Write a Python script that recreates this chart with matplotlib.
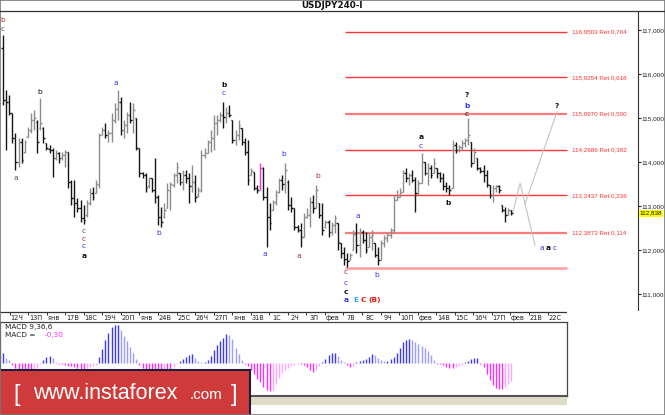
import numpy as np
import matplotlib
matplotlib.use("Agg")
import matplotlib.pyplot as plt
from matplotlib.patches import Rectangle

W, H = 665, 415

# 4H bars, USDJPY
highs = [116.89, 115.64, 115.52, 115.11, 114.66, 114.55, 114.55, 114.50, 114.80, 115.11,
         115.18, 114.95, 115.45, 114.80, 114.43, 114.39, 114.32, 114.27, 114.23, 114.23,
         114.27, 114.23, 113.59, 113.59, 113.18, 113.14, 113.02, 113.14, 113.41, 113.43,
         113.59, 114.66, 114.80, 114.89, 114.73, 115.11, 115.34, 115.64, 115.48, 114.95,
         115.14, 115.36, 115.34, 115.00, 114.32, 113.77, 113.75, 113.66, 113.64, 114.09,
         113.25, 112.98, 113.07, 113.52, 113.55, 113.75, 114.00, 113.75, 113.82, 113.82,
         113.75, 113.93, 113.70, 113.43, 114.27, 114.32, 114.50, 114.73, 115.07, 115.07,
         115.14, 115.36, 115.25, 115.30, 114.95, 114.73, 114.95, 114.77, 114.55, 114.50,
         113.86, 113.77, 113.48, 113.98, 113.89, 113.43, 113.07, 113.14, 113.36, 113.64,
         113.70, 113.98, 113.59, 113.20, 112.95, 112.57, 112.61, 112.84, 112.95, 113.20,
         113.25, 113.48, 113.07, 113.07, 112.68, 112.68, 112.64, 112.80, 112.61, 112.16,
         112.07, 111.93, 111.93, 112.45, 112.61, 112.50, 112.45, 112.41, 112.39, 112.45,
         112.16, 112.07, 112.23, 112.34, 112.41, 112.50, 113.25, 113.36, 113.41, 113.82,
         113.86, 113.75, 113.82, 113.66, 113.59, 114.20, 114.00, 113.98, 113.93, 114.09,
         113.86, 113.77, 113.75, 113.55, 113.48, 114.50, 114.45, 114.39, 114.50, 114.55,
         115.00, 114.45, 114.32, 114.09, 113.89, 113.93, 113.82, 113.48, 113.48, 113.48,
         113.48, 113.02, 112.98, 112.95, 112.91]
lows = [115.30, 114.27, 115.07, 114.43, 113.82, 113.89, 113.98, 114.20, 114.57, 114.66,
        114.73, 114.20, 114.73, 114.43, 114.27, 114.20, 113.66, 114.05, 113.98, 114.05,
        113.89, 113.41, 113.02, 112.75, 112.86, 112.64, 112.59, 112.75, 113.02, 113.14,
        113.30, 113.41, 114.61, 114.55, 114.45, 114.45, 114.89, 114.95, 114.61, 114.55,
        114.66, 114.89, 114.66, 114.27, 113.66, 113.64, 113.32, 113.41, 113.32, 113.07,
        112.57, 112.52, 112.73, 112.95, 112.91, 113.43, 113.52, 113.48, 113.36, 113.52,
        113.07, 113.32, 113.09, 113.20, 113.32, 114.09, 114.20, 114.23, 114.27, 114.61,
        114.91, 114.77, 114.89, 115.02, 114.43, 114.39, 114.50, 114.39, 114.16, 113.48,
        113.70, 113.36, 113.30, 113.36, 113.14, 112.07, 112.45, 112.91, 113.02, 113.30,
        113.36, 113.30, 112.91, 112.86, 112.45, 112.41, 112.07, 112.30, 112.73, 112.52,
        112.84, 112.95, 112.73, 112.34, 112.50, 112.30, 112.34, 112.39, 112.00, 111.82,
        111.66, 111.61, 111.77, 112.00, 111.93, 111.84, 112.16, 111.93, 112.07, 112.00,
        111.84, 111.66, 111.77, 112.07, 112.18, 112.27, 112.39, 113.14, 113.20, 113.32,
        113.55, 113.48, 113.55, 112.86, 113.25, 113.52, 113.70, 113.48, 113.64, 113.75,
        113.64, 113.55, 113.36, 113.32, 113.25, 113.41, 114.20, 114.23, 114.27, 114.34,
        114.39, 113.89, 113.98, 113.82, 113.75, 113.55, 113.43, 113.18, 113.09, 113.32,
        113.30, 112.86, 112.64, 112.80, 112.80]
opens = [116.60, 115.41, 115.36, 115.11, 114.55, 114.00, 114.45, 114.23, 114.57, 114.73,
         114.95, 114.91, 114.77, 114.77, 114.43, 114.30, 114.27, 114.09, 114.20, 114.09,
         114.16, 114.23, 113.55, 113.18, 113.07, 112.95, 112.73, 112.80, 113.07, 113.30,
         113.30, 113.48, 114.61, 114.73, 114.61, 114.66, 114.95, 115.20, 115.36, 114.73,
         114.84, 115.07, 114.95, 115.00, 114.32, 113.75, 113.70, 113.45, 113.64, 113.36,
         113.20, 112.75, 112.75, 112.95, 113.36, 113.48, 113.70, 113.75, 113.55, 113.70,
         113.64, 113.45, 113.55, 113.25, 113.36, 114.16, 114.20, 114.45, 114.55, 114.89,
         114.95, 115.07, 115.02, 115.11, 114.95, 114.50, 114.61, 114.77, 114.45, 114.23,
         113.70, 113.77, 113.41, 113.45, 113.86, 113.20, 112.75, 112.91, 113.09, 113.32,
         113.59, 113.50, 113.55, 113.02, 112.95, 112.52, 112.45, 112.30, 112.75, 112.80,
         113.09, 112.95, 113.07, 112.80, 112.52, 112.64, 112.41, 112.57, 112.61, 112.16,
         111.93, 111.80, 111.77, 112.00, 112.36, 112.11, 112.41, 112.23, 112.07, 112.30,
         112.16, 111.89, 111.77, 112.16, 112.27, 112.34, 112.45, 113.14, 113.20, 113.32,
         113.75, 113.64, 113.70, 113.59, 113.30, 113.52, 114.00, 113.75, 113.86, 113.75,
         113.86, 113.75, 113.64, 113.45, 113.41, 113.41, 114.39, 114.27, 114.34, 114.43,
         114.50, 114.45, 113.98, 114.09, 113.86, 113.80, 113.70, 113.48, 113.25, 113.41,
         113.45, 113.02, 112.91, 112.80, 112.91]
closes = [115.41, 115.36, 115.11, 114.55, 114.00, 114.45, 114.05, 114.45, 114.73, 114.95,
          115.00, 114.45, 114.89, 114.55, 114.32, 114.27, 114.09, 114.20, 114.09, 114.16,
          114.23, 113.55, 113.18, 113.07, 112.95, 112.73, 112.68, 113.07, 113.30, 113.20,
          113.50, 114.61, 114.73, 114.61, 114.66, 114.95, 115.20, 115.36, 114.73, 114.84,
          115.07, 114.95, 115.18, 114.32, 113.75, 113.70, 113.41, 113.64, 113.36, 113.20,
          112.75, 112.64, 112.91, 113.36, 113.50, 113.70, 113.89, 113.55, 113.70, 113.64,
          113.45, 113.55, 113.20, 113.36, 114.16, 114.20, 114.45, 114.55, 114.89, 114.95,
          115.07, 115.02, 115.11, 115.07, 114.50, 114.61, 114.84, 114.45, 114.23, 113.59,
          113.80, 113.41, 113.36, 113.86, 113.20, 112.75, 112.61, 113.09, 113.25, 113.59,
          113.50, 113.82, 113.02, 112.95, 112.52, 112.45, 112.30, 112.75, 112.80, 113.09,
          112.95, 113.36, 112.80, 112.45, 112.64, 112.41, 112.57, 112.73, 112.18, 111.93,
          111.80, 111.75, 111.89, 112.36, 112.11, 112.41, 112.23, 112.00, 112.30, 112.34,
          111.89, 111.77, 112.16, 112.27, 112.34, 112.45, 113.14, 113.20, 113.30, 113.75,
          113.64, 113.70, 113.59, 113.30, 113.52, 114.00, 113.75, 113.86, 113.70, 113.98,
          113.75, 113.64, 113.45, 113.41, 113.36, 114.39, 114.27, 114.34, 114.43, 114.50,
          114.61, 113.98, 114.23, 113.86, 113.80, 113.70, 113.50, 113.25, 113.41, 113.45,
          113.36, 112.91, 112.80, 112.91, 112.84]

# MACD(9,36,6) histogram
macd = [0.17, 0.08, 0.05, -0.03, -0.08, -0.10, -0.12, -0.12, -0.12, -0.12,
        -0.10, -0.08, -0.02, 0.05, 0.10, 0.12, 0.08, 0.02, -0.02, -0.02,
        -0.03, -0.05, -0.05, -0.07, -0.08, -0.10, -0.10, -0.08, -0.07, -0.05,
        -0.03, 0.10, 0.23, 0.38, 0.50, 0.60, 0.63, 0.63, 0.55, 0.45,
        0.37, 0.27, 0.17, 0.07, -0.03, -0.08, -0.10, -0.12, -0.12, -0.12,
        -0.12, -0.12, -0.10, -0.10, -0.10, -0.07, -0.02, 0.03, 0.07, 0.10,
        0.13, 0.15, 0.08, 0.03, 0.02, 0.02, 0.05, 0.12, 0.22, 0.30,
        0.37, 0.42, 0.48, 0.47, 0.40, 0.25, 0.15, 0.05, -0.02, -0.05,
        -0.12, -0.18, -0.27, -0.32, -0.40, -0.45, -0.47, -0.45, -0.35, -0.25,
        -0.17, -0.12, -0.08, -0.05, -0.03, -0.02, -0.02, -0.03, -0.07, -0.12,
        -0.15, -0.12, -0.05, 0.02, 0.07, 0.13, 0.17, 0.17, 0.12, 0.05,
        0.02, -0.03, -0.07, -0.05, 0.02, 0.03, 0.05, 0.07, 0.10, 0.15,
        0.13, 0.08, 0.05, 0.03, 0.03, 0.07, 0.10, 0.17, 0.25, 0.35,
        0.38, 0.40, 0.38, 0.35, 0.32, 0.28, 0.25, 0.20, 0.13, 0.05,
        -0.02, -0.02, -0.03, -0.07, -0.08, -0.08, -0.07, -0.05, -0.03, 0.02,
        0.03, 0.07, 0.08, 0.08, -0.02, -0.07, -0.18, -0.28, -0.37, -0.42,
        -0.43, -0.43, -0.40, -0.35, -0.30]

days = ["12Ч", "13П", "янв", "17В", "18С", "19Ч", "20П", "янв", "24В", "25С",
        "26Ч", "27П", "янв", "31В", "1С", "2Ч", "3П", "фев", "7В", "8С",
        "9Ч", "10П", "фев", "14В", "15С", "16Ч", "17П", "фев", "21В", "22С"]

fib_levels = [116.9503, 115.9254, 115.0970, 114.2686, 113.2437, 112.3873]
fib_ratios = ["0,764", "0,618", "0,500", "0,382", "0,236", "0,114"]
base_level = 111.60
last_price = 112.838

# forecast paths (bar index, price)
path_main_x = [164.5, 166.8, 171.6]
path_main_y = [112.86, 113.52, 112.11]
path_alt_x = [168.4, 178.7]
path_alt_y = [113.05, 115.14]

BLUE = "#3333ff"
BROWN = "#b03030"
GREY = "#555555"
BLACK = "#111111"
# wave labels: text, bar index, price, colour, bold
waves = [
    ("b", 0.0, 117.22, BROWN, False), ("c", 0.0, 117.03, GREY, False),
    ("a", 4.2, 113.64, GREY, False), ("b", 11.9, 115.59, BLACK, False),
    ("c", 26.1, 112.44, GREY, False), ("c", 26.1, 112.26, BROWN, False),
    ("c", 26.1, 112.08, BLUE, False), ("a", 26.1, 111.86, BLACK, True),
    ("a", 36.5, 115.80, BLUE, False), ("b", 50.3, 112.39, BLUE, False),
    ("b", 71.3, 115.75, BLACK, True), ("c", 71.3, 115.57, BLUE, False),
    ("b", 90.6, 114.18, BLUE, False), ("a", 84.5, 111.91, BLUE, False),
    ("b", 101.6, 113.68, BROWN, False), ("a", 95.5, 111.86, BROWN, False),
    ("a", 114.5, 112.77, BLUE, False),
    ("c", 110.6, 111.50, BROWN, False), ("c", 110.6, 111.25, BLUE, False),
    ("c", 110.6, 111.05, BLACK, True), ("a", 110.6, 110.86, BLUE, True),
    ("E", 113.9, 110.86, "#2f9cff", True), ("C", 116.1, 110.86, "#e02020", True),
    ("(B)", 120.0, 110.86, "#e02020", True),
    ("b", 120.6, 111.43, BLUE, False), ("b", 143.5, 113.07, BLACK, True),
    ("a", 134.8, 114.57, BLACK, True), ("c", 134.8, 114.36, BLUE, False),
    ("?", 149.7, 115.52, BLACK, True), ("b", 149.7, 115.27, BLUE, True),
    ("c", 149.7, 115.09, BLACK, False), ("?", 178.7, 115.27, BLACK, True),
    ("a", 173.9, 112.05, BLUE, False), ("a", 175.8, 112.05, BLACK, True),
    ("c", 178.1, 112.05, BLUE, False),
]

fig = plt.figure(figsize=(W / 100, H / 100), dpi=100)
fig.patch.set_facecolor("white")


def px_axes(x0, y0, x1, y1):
    return fig.add_axes([x0 / W, 1 - y1 / H, (x1 - x0) / W, (y1 - y0) / H])


def bar_x(px):
    return (px - 3) / 3.1


def price_y(py):
    return 117.682 - py / 44


# ---- price panel
ax = px_axes(0, 12, 638, 310)
ax.set_xlim(bar_x(0), bar_x(638))
ax.set_ylim(price_y(310), price_y(12))
for s in ["top", "left", "bottom"]:
    ax.spines[s].set_visible(False)
ax.spines["right"].set_color("#333333")
ax.set_xticks([])
ax.yaxis.tick_right()
ax.set_yticks(range(111, 118))
ax.set_yticklabels([f"{v},000" for v in range(111, 118)],
                   family="Liberation Sans")
ax.tick_params(axis="y", direction="out", length=2, width=0.8, pad=0.5,
               labelsize=4.6, colors="#222222")

for lv, r in zip(fib_levels, fib_ratios):
    soft = r in ("0,500", "0,114")
    ax.hlines(lv, bar_x(345), bar_x(567), colors="#ff7a7a" if soft else "#ff3535",
              lw=1.6 if soft else 1.0, zorder=1)
    ax.text(bar_x(572), lv, f"{lv:.4f}".replace(".", ",") + " Ret " + r,
            color="#ff3030", fontsize=4.5, va="center", ha="left",
            family="Liberation Sans")
ax.hlines(base_level, bar_x(345), bar_x(567), colors="#ff9c9c", lw=1.8, zorder=1)

x = np.arange(len(highs))
o = np.array(opens)
c = np.array(closes)
cols = np.where(c >= o, "#8c8c8c", "#151515").astype(object)
cols[83] = "#ff33cc"
ax.vlines(x, lows, highs, colors=list(cols), lw=1.0, zorder=3)
ax.hlines(o, x - 0.5, x, colors=list(cols), lw=1.0, zorder=3)
ax.hlines(c, x, x + 0.5, colors=list(cols), lw=1.0, zorder=3)

ax.plot(path_main_x, path_main_y, color="#c4c4c4", lw=0.8, zorder=2)
ax.plot(path_alt_x, path_alt_y, color="#c4c4c4", lw=0.8, zorder=2)

for t, xi, yi, col, bold in waves:
    ax.text(xi, yi, t, color=col, fontsize=5.4, ha="center", va="center",
            fontweight="bold" if bold else "normal", zorder=4)

ax.annotate(f"{last_price:.3f}".replace(".", ","), xy=(1.0, last_price),
            xycoords=("axes fraction", "data"), xytext=(1.2, 0),
            textcoords="offset points", va="center", ha="left", fontsize=4.6,
            color="#111111", family="Liberation Sans",
            bbox=dict(boxstyle="square,pad=0.15", fc="#ffff00", ec="none"))

# ---- date strip
axd = px_axes(0, 310, 567, 322)
axd.set_xlim(-17 / 18.55, (567 - 17) / 18.55)
axd.set_ylim(0, 1)
axd.axis("off")
axd.axhline(0.85, color="#333333", lw=0.9)
for k, d in enumerate(days):
    axd.vlines(k - 0.4, 0.62, 0.85, color="#333333", lw=0.7)
    axd.text(k, 0.32, d, fontsize=4.8, ha="center", va="center", color="#222222")

# ---- MACD panel
axm = px_axes(0, 322, 567, 396)
axm.set_xlim(bar_x(0), bar_x(567))
axm.set_ylim(-0.545, 0.688)
axm.set_xticks([])
axm.set_yticks([])
for s in axm.spines.values():
    s.set_color("#444444")
    s.set_linewidth(0.9)
m = np.array(macd)
prev = np.r_[m[0], m[:-1]]
mcol = np.where(m >= 0, np.where(m >= prev, "#3a3aff", "#9d9dff"),
                np.where(m <= prev, "#ff30ff", "#ffa6ff"))
xm = np.arange(len(m))
axm.vlines(xm, 0, m, colors=list(mcol), lw=1.0)
axm.text(0.008, 0.93, "MACD 9,36,6", transform=axm.transAxes, fontsize=5.3,
         va="center", ha="left", color="#222222")
axm.text(0.008, 0.82, "MACD = ", transform=axm.transAxes, fontsize=5.3,
         va="center", ha="left", color="#222222")
axm.text(0.078, 0.82, "-0,30", transform=axm.transAxes, fontsize=5.3,
         va="center", ha="left", color="#ff30ff")

# ---- strip under MACD
axg = px_axes(0, 396, 567, 405)
axg.set_facecolor("#dedbc6")
axg.set_xticks([])
axg.set_yticks([])
for s in ["left", "right", "bottom"]:
    axg.spines[s].set_visible(False)
axg.spines["top"].set_color("#555555")
axg.spines["top"].set_linewidth(1.5)

# ---- banner
axb = px_axes(0, 370, 250, 415)
axb.set_facecolor("#cf3b3b")
axb.set_xticks([])
axb.set_yticks([])
for s in ["left", "bottom"]:
    axb.spines[s].set_visible(False)
for s in ["top", "right"]:
    axb.spines[s].set_color("#1e1e3c")
    axb.spines[s].set_linewidth(1.5)


def ftext(px, py, s, **kw):
    fig.text(px / W, 1 - py / H, s, **kw)


ftext(13, 401, "[", fontsize=17, color="white", family="Liberation Sans", va="baseline")
ftext(33, 399, "www.instaforex", fontsize=15.5, color="white", family="Liberation Sans",
      va="baseline")
ftext(190, 399, ".com", fontsize=11, color="white", family="Liberation Sans", va="baseline")
ftext(231, 401, "]", fontsize=17, color="white", family="Liberation Sans", va="baseline")

# ---- title and frame
ftext(332, 6, "USDJPY240-I", fontsize=6.3, fontweight="bold", ha="center", va="center",
      color="#111111")
fig.add_artist(plt.Line2D([0, 1], [1 - 11.5 / H] * 2, color="#333333", lw=0.9))
fig.add_artist(Rectangle((0, 0), 1, 1, transform=fig.transFigure, fill=False,
                         ec="#777777", lw=1.2))

fig.savefig("out.png", dpi=100)
